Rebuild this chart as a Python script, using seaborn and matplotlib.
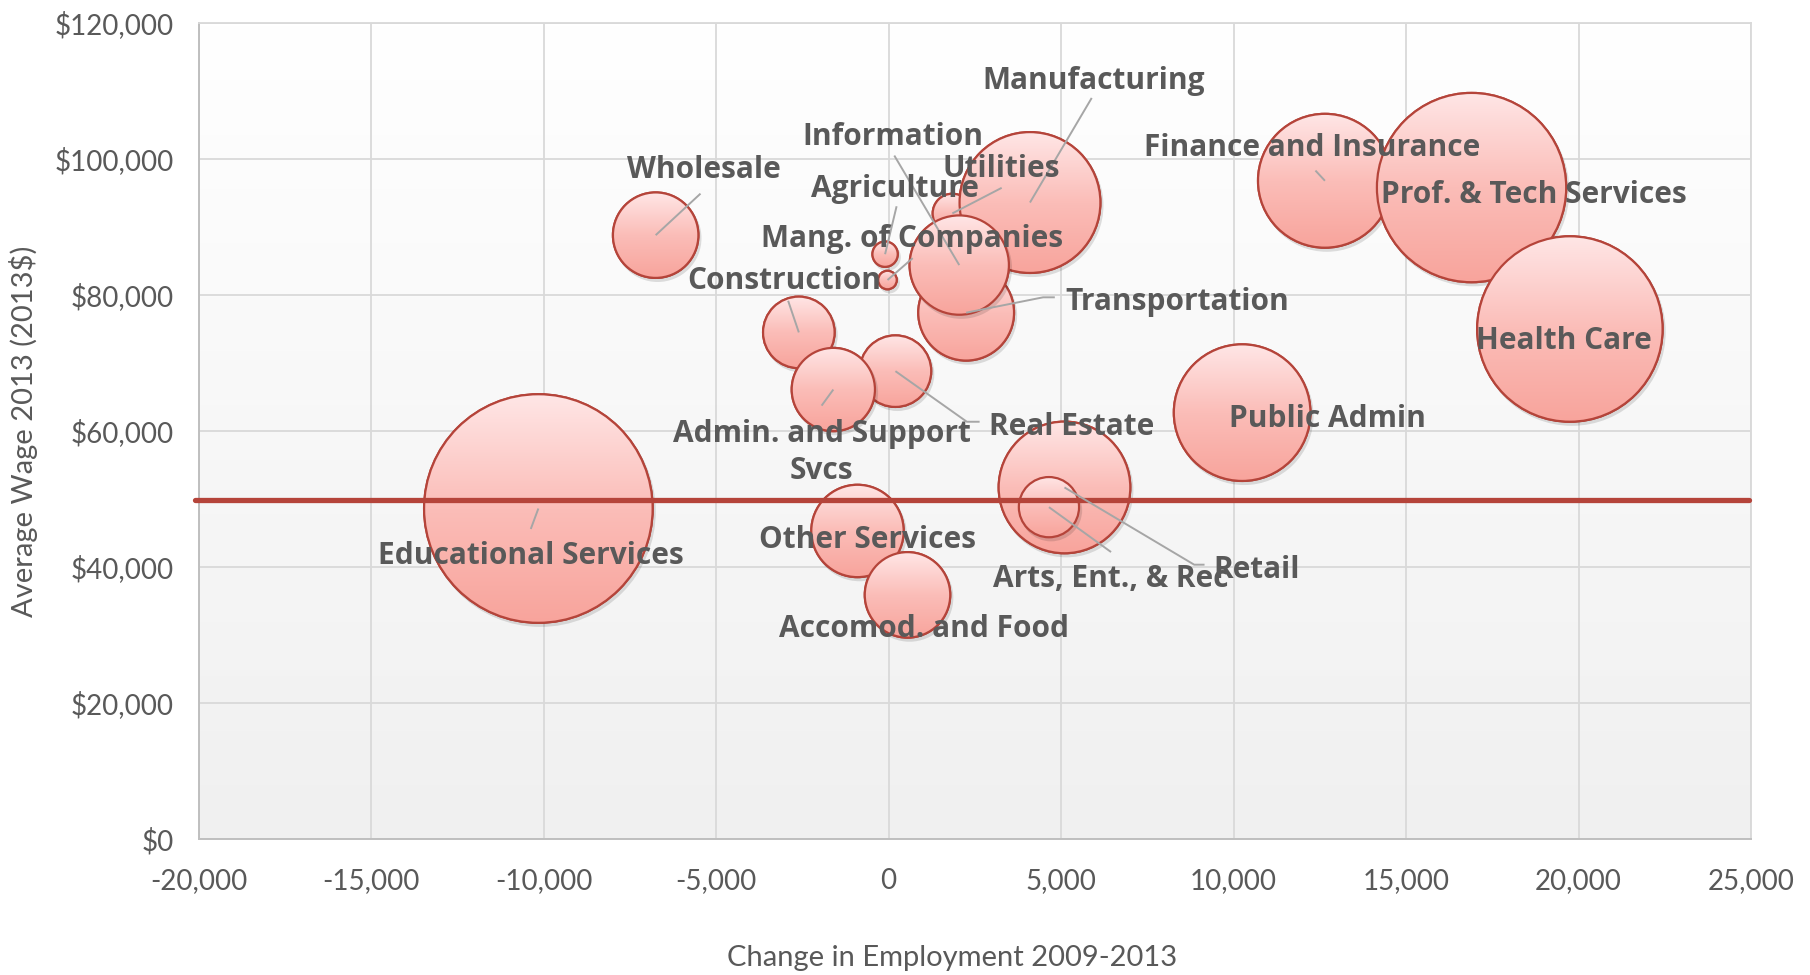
import numpy as np
import pandas as pd
import matplotlib
matplotlib.use("Agg")
import matplotlib.pyplot as plt
from matplotlib.patches import Circle
from matplotlib.transforms import IdentityTransform
from matplotlib.colors import LinearSegmentedColormap
from matplotlib.ticker import FuncFormatter, FixedLocator
import seaborn as sns

# ---------------- data ----------------
industries = ["Agriculture", "Utilities", "Construction", "Manufacturing", "Wholesale",
              "Retail", "Transportation", "Information", "Finance and Insurance",
              "Real Estate", "Prof. & Tech Services", "Mang. of Companies",
              "Admin. and Support\nSvcs", "Educational Services", "Health Care",
              "Arts, Ent., & Rec", "Other Services", "Accomod. and Food", "Public Admin"]
emp_change = [-100, 1850, -2600, 4100, -6750, 5100, 2250, 2050, 12650, 200,
              16900, -30, -1600, -10150, 19750, 4650, -900, 550, 10250]
avg_wage = [86000, 92000, 74500, 93600, 88800, 51700, 77400, 84400, 96800, 68800,
            95800, 82200, 66100, 48600, 75000, 48800, 45300, 35900, 62700]
employment = [1200, 2900, 9600, 37200, 13700, 32500, 17200, 18500, 33600, 9600,
              67200, 640, 13000, 98000, 64500, 6800, 16000, 13700, 35000]
avg_wage_all = 49800

x_ticks = [-20000, -15000, -10000, -5000, 0, 5000, 10000, 15000, 20000, 25000]
y_ticks = [0, 20000, 40000, 60000, 80000, 100000, 120000]

# label placement (layout): label centre, optional leader start, optional elbow
label_pos = {
    "Agriculture": ((200, 96100), (234, 93050), None),
    "Utilities": ((3280, 98980), (3280, 95760), None),
    "Construction": ((-3010, 82540), (-2910, 79150), None),
    "Manufacturing": ((5950, 111860), (5890, 108980), None),
    "Wholesale": ((-5350, 98810), (-5450, 94910), None),
    "Retail": ((10670, 40000), (9160, 40340), (8860, 40340)),
    "Transportation": ((8360, 79490), (4820, 79660), (4480, 79660)),
    "Information": ((134, 103730), (167, 100510), None),
    "Finance and Insurance": ((12270, 102030), (12375, 98300), None),
    "Real Estate": ((5320, 61020), (2640, 61360), (2270, 61360)),
    "Prof. & Tech Services": ((18700, 95090), None, None),
    "Mang. of Companies": ((670, 88640), (700, 85420), None),
    "Admin. and Support\nSvcs": ((-1940, 57300), (-1940, 63730), None),
    "Educational Services": ((-10370, 42030), (-10370, 45590), None),
    "Health Care": ((19570, 73730), None, None),
    "Arts, Ent., & Rec": ((6450, 38640), (6450, 42200), None),
    "Other Services": ((-600, 44410), None, None),
    "Accomod. and Food": ((1040, 31360), None, None),
    "Public Admin": ((12710, 62200), None, None),
}
LABEL_DY = -450  # small vertical nudge of all labels

# ---------------- style ----------------
TEXT = "#595959"
EDGE = "#b5443a"
FILL = "#fcc3bf"
LINE_RED = "#b5443a"
LEADER = "#a6a6a6"
GRID = "#d9d9d9"

sns.set_theme(style="white")
plt.rcParams['font.family'] = ['Lato', 'DejaVu Sans']

DPI = 100
fig = plt.figure(figsize=(18.1, 9.75), dpi=DPI)
ax = fig.add_axes([0.1097, 0.1395, 0.8577, 0.8369])

# plot area background gradient
bg = np.linspace(0, 1, 256).reshape(-1, 1)
bg_cmap = LinearSegmentedColormap.from_list("bg", ["#ffffff", "#f0f0f0"])
ax.imshow(bg, cmap=bg_cmap, extent=(0, 1, 0, 1), transform=ax.transAxes,
          aspect="auto", origin="upper", zorder=-2)

df = pd.DataFrame({"industry": industries, "change": emp_change,
                   "wage": avg_wage, "employment": employment})
vmax = max(employment)
k = 0.2764
LW = 1.6
sns.scatterplot(data=df, x="change", y="wage", size="employment",
                sizes=(0, k * vmax), size_norm=(0, vmax), color=FILL,
                edgecolor=EDGE, linewidth=LW, legend=False, ax=ax, zorder=3)
coll = ax.collections[-1]

ax.set_xlim(-20000, 25000)
ax.set_ylim(0, 120000)

ax.xaxis.set_major_locator(FixedLocator(x_ticks))
ax.yaxis.set_major_locator(FixedLocator(y_ticks))
ax.xaxis.set_major_formatter(FuncFormatter(lambda v, p: f"{v:,.0f}"))
ax.yaxis.set_major_formatter(FuncFormatter(lambda v, p: f"${v:,.0f}"))
ax.tick_params(axis="both", length=0, labelsize=20, labelcolor=TEXT)
ax.tick_params(axis="y", pad=18)
ax.tick_params(axis="x", pad=21)
ax.grid(True, color=GRID, linewidth=1.3)
ax.set_axisbelow(True)
for side in ["left", "bottom"]:
    ax.spines[side].set_color("#bfbfbf")
    ax.spines[side].set_linewidth(1.4)
for side in ["top", "right"]:
    ax.spines[side].set_color(GRID)
    ax.spines[side].set_linewidth(1.3)

ax.set_xlabel("Change in Employment 2009-2013", fontsize=21, color=TEXT, va="center")
ax.set_ylabel("Average Wage 2013 (2013$)", fontsize=21, color=TEXT, va="center")
ax.xaxis.set_label_coords(0.4853, -0.1458)
ax.yaxis.set_label_coords(-0.1125, 0.5)

# gradient bubbles rendered over the seaborn markers, in drawing order
fig.canvas.draw()
offsets = coll.get_offsets()
sizes = coll.get_sizes()
grad = np.linspace(0, 1, 256).reshape(-1, 1)
bub_cmap = LinearSegmentedColormap.from_list("bub", ["#ffe6e6", "#fbbdb8", "#f8a49c"])
inv = ax.transData.inverted()
lw_px = LW * DPI / 72
for i, ((x, y), s) in enumerate(zip(offsets, sizes)):
    r_px = np.sqrt(s) / 2 * DPI / 72
    cx, cy = ax.transData.transform((x, y))
    z = 3.1 + i * 0.01
    shadow = Circle((cx + 2, cy - 3), r_px + lw_px / 2, transform=IdentityTransform(),
                    facecolor="#000000", edgecolor="none", alpha=0.12, zorder=z)
    ax.add_artist(shadow)
    x0, y0 = inv.transform((cx - r_px, cy - r_px))
    x1, y1 = inv.transform((cx + r_px, cy + r_px))
    im = ax.imshow(grad, cmap=bub_cmap, extent=(x0, x1, y0, y1), origin="upper",
                   aspect="auto", zorder=z + 0.002, interpolation="bilinear")
    im.set_clip_path(Circle((cx, cy), r_px, transform=IdentityTransform()))
    ring = Circle((cx, cy), r_px, transform=IdentityTransform(), fill=False,
                  edgecolor=EDGE, linewidth=LW, zorder=z + 0.004)
    ax.add_artist(ring)

ax.set_xlim(-20000, 25000)
ax.set_ylim(0, 120000)

# average wage line
ax.axhline(avg_wage_all, color=LINE_RED, linewidth=3.8, zorder=10, clip_on=False,
           xmin=-0.002, xmax=0.999)

# labels and leader lines
for name, xv, yv in zip(industries, emp_change, avg_wage):
    (lx, ly), start, elbow = label_pos[name]
    if start is not None:
        pts = [start] + ([elbow] if elbow is not None else []) + [(xv, yv)]
        ax.plot([p[0] for p in pts], [p[1] for p in pts], color=LEADER,
                linewidth=1.4, zorder=11, solid_capstyle="butt")
    ax.text(lx, ly + LABEL_DY, name, ha="center", va="center", fontsize=21.5,
            fontweight="bold", color=TEXT, zorder=12, linespacing=1.3,
            family=["Open Sans", "DejaVu Sans"])

fig.savefig("out.png", dpi=DPI)
